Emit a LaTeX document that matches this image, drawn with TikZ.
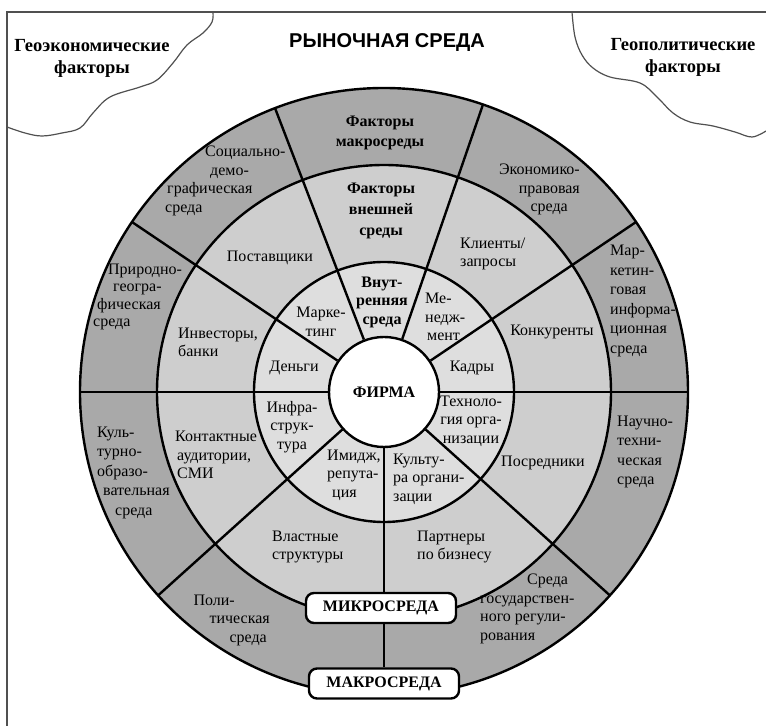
\documentclass[tikz,border=0pt]{standalone}
\usepackage{fontspec}
\setmainfont{Liberation Serif}
\newfontfamily\titlefont{Liberation Sans}
\usetikzlibrary{backgrounds}
\definecolor{macrofill}{HTML}{A9A9A9}
\definecolor{microfill}{HTML}{CECECE}
\definecolor{innerfill}{HTML}{DEDEDE}
\definecolor{framegray}{HTML}{505050}
\begin{document}
\begin{tikzpicture}[x=1bp,y=1bp,
  ringline/.style={line width=2.4bp, draw=black},
  lbl/.style={font=\fontsize{16bp}{18.5bp}\selectfont, inner sep=0pt, align=center},
  lblL/.style={lbl, align=left, anchor=west},
  lblR/.style={lbl, align=right, anchor=east},
  blbl/.style={inner sep=0pt, align=center, font=\fontsize{16bp}{20bp}\selectfont\bfseries},
  zone/.style={draw, line width=2.4bp, rounded corners=8bp, fill=white, inner sep=0pt,
    minimum width=150bp, minimum height=30bp, font=\fontsize{16bp}{18bp}\selectfont\bfseries},
  corner/.style={inner sep=0pt, align=center, font=\fontsize{18.5bp}{22bp}\selectfont\bfseries},
  edge/.style={framegray, line width=1.2bp},
]
\useasboundingbox (-384,-334) rectangle (382,392);

% centre and the two labelled boxes on the vertical axis
\node[circle, draw, line width=2.4bp, fill=white, minimum size=110bp, inner sep=0pt,
  font=\fontsize{16bp}{18bp}\selectfont\bfseries] (firm) at (0,0) {ФИРМА};
\node[zone] (micro) at (-3,-216) {МИКРОСРЕДА};
\node[zone] (macro) at (0,-291.5) {МАКРОСРЕДА};

% rings and sector borders
\begin{scope}[on background layer]
  \fill[macrofill] (0,0) circle (304bp);
  \fill[microfill] (0,0) circle (227bp);
  \fill[innerfill] (0,0) circle (130bp);
  \draw[ringline] (0,0) circle (304bp) (0,0) circle (227bp) (0,0) circle (130bp);
  \foreach \a in {0,34,71,111,146,180,222,318}
    \draw[ringline] (firm.\a) -- (\a:304bp);
  \draw[ringline] (firm.south) -- (macro.north);
\end{scope}

% page frame and the two corner regions
\draw[edge] (382,380) -- (-377,380) -- (-377,-334);
\draw[edge] plot[smooth, tension=0.6] coordinates {(-171,380) (-172,370) (-181,359) (-197,347)
  (-211,329) (-227,312) (-244,305) (-274,295) (-291,279) (-304,264) (-322,259) (-342,256)
  (-359,259) (-377,265)};
\draw[edge] plot[smooth, tension=0.6] coordinates {(188,380) (191,355) (198,337) (209,324)
  (226,315) (256,309) (273,295) (289,279) (306,270) (329,266) (351,260) (368,255) (382,261)};

% headings
\node[inner sep=0pt, font=\titlefont\fontsize{20bp}{24bp}\selectfont\bfseries] (market) at (3,349) {РЫНОЧНАЯ СРЕДА};
\node[corner] (geoecon) at (-292,334) {Геоэкономические\\факторы};
\node[corner] (geopol) at (299,334.5) {Геополитические\\факторы};

% macro environment
\node[blbl] (macroTitle) at (-4,259) {Факторы\\макросреды};
\node[lblL] (social) at (-219,211) {\hspace*{40bp}Социально-\\\hspace*{45bp}демо-\\\hspace*{2bp}графическая\\среда};
\node[lblR] (econ) at (196,202.5) {Экономико-\\правовая\\среда\hspace*{12bp}};
\node[lblL, font=\fontsize{16bp}{19.5bp}\selectfont] (mkinfo) at (226,91) {Мар-\\кетин-\\говая\\информа-\\ционная\\среда};
\node[lblL, font=\fontsize{16bp}{19.5bp}\selectfont] (scitech) at (233,-60) {Научно-\\техни-\\ческая\\среда};
\node[lblL] (govreg) at (96,-217) {\hspace*{47bp}Среда\\государствен-\\ного регули-\\рования};
\node[lblR] (polit) at (-114,-228) {Поли-\hspace*{35bp}\\тическая\\среда\hspace*{3bp}};
\node[lblL, font=\fontsize{16bp}{19.5bp}\selectfont] (culture) at (-287,-80.5) {Куль-\\турно-\\образо-\\\hspace*{6bp}вательная\\\hspace*{18bp}среда};
\node[lblL, font=\fontsize{16bp}{17.5bp}\selectfont] (nature) at (-291,95) {\hspace*{15bp}Природно-\\\hspace*{20bp}геогра-\\\hspace*{4bp}фическая\\среда};

% micro environment
\node[blbl, font=\fontsize{16bp}{21bp}\selectfont\bfseries] (extTitle) at (-3,181) {Факторы\\внешней\\среды};
\node[lbl] (suppliers) at (-114,134) {Поставщики};
\node[lblL] (clients) at (76,138) {Клиенты/\\запросы};
\node[lbl] (rivals) at (168,60) {Конкуренты};
\node[lbl] (agents) at (159,-71) {Посредники};
\node[lblL] (partners) at (33,-155) {Партнеры\\по бизнесу};
\node[lblL] (power) at (-112,-155) {Властные\\структуры};
\node[lblL] (contact) at (-209,-63) {Контактные\\\hspace*{2bp}аудитории,\\\hspace*{2bp}СМИ};
\node[lblL] (investors) at (-206,49.5) {Инвесторы,\\банки};

% internal environment
\node[blbl, font=\fontsize{16bp}{18.5bp}\selectfont\bfseries] (intTitle) at (-2,90) {Внут-\\ренняя\\среда};
\node[lbl] (marketing) at (-63,70) {Марке-\\тинг};
\node[lblL] (mgmt) at (41,75) {Ме-\\недж-\\\hspace*{2bp}мент};
\node[lbl] (staff) at (88,24) {Кадры};
\node[lbl] (money) at (-90,24) {Деньги};
\node[lbl] (infra) at (-92,-35) {Инфра-\\струк-\\тура};
\node[lblL] (image) at (-57,-83) {Имидж,\\репута-\\\hspace*{5bp}ция};
\node[lblL] (corpcult) at (9,-87) {Культу-\\ра органи-\\зации};
\node[lbl] (tech) at (87,-29) {Техноло-\\гия орга-\\низации};
\end{tikzpicture}
\end{document}
